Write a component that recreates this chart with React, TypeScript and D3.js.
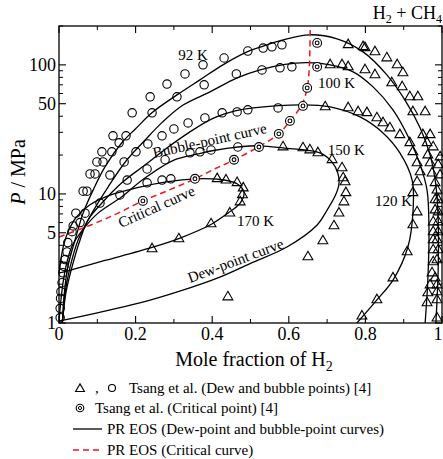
import React from 'react';
import * as d3 from 'd3';

type Pt = [number, number];

const W = 443, H = 459;
const X0 = 59, X1 = 442, Y0 = 323, Y1 = 26;

const xTicks = [0, 0.2, 0.4, 0.6, 0.8, 1];
const xTickLabels = ['0', '0.2', '0.4', '0.6', '0.8', '1'];
const xMinor = [0.1, 0.3, 0.5, 0.7, 0.9];
const yTicks = [1, 5, 10, 50, 100];
const yTickLabels = ['1', '5', '10', '50', '100'];
const yMinor = [2, 3, 4, 6, 7, 8, 9, 20, 30, 40, 60, 70, 80, 90, 200];

const curve92: Pt[] = [[0.009,1.0],[0.010,1.15],[0.013,1.6],[0.023,2.72],[0.042,4.4],[0.063,7.1],[0.089,10.7],[0.120,16.2],[0.164,24.9],[0.200,32],[0.245,43.1],[0.308,58.5],[0.368,76.5],[0.428,100],[0.491,126],[0.525,137],[0.58,155],[0.655,171],[0.726,159],[0.794,126],[0.856,83.6],[0.903,53.5],[0.943,32.4],[0.969,20],[0.984,11.7],[0.990,6.3],[0.990,2.57],[0.984,1.0]];
const curve100: Pt[] = [[0.008,1.0],[0.010,1.11],[0.016,1.71],[0.029,2.72],[0.050,4.4],[0.086,7.1],[0.128,11.3],[0.175,18],[0.225,26.2],[0.27,36],[0.324,48.8],[0.394,61.7],[0.465,79.3],[0.525,91.5],[0.59,101],[0.648,104],[0.708,100],[0.768,88.3],[0.820,67.5],[0.872,44.8],[0.916,26.2],[0.943,16.8],[0.961,10.7],[0.966,5.26],[0.963,2.15],[0.956,1.0]];
const curve120: Pt[] = [[0.008,1.0],[0.010,1.11],[0.018,1.71],[0.034,2.72],[0.055,4.4],[0.076,6.3],[0.112,8.5],[0.164,12.2],[0.225,16.8],[0.28,22.5],[0.34,30],[0.402,38.5],[0.46,44],[0.507,46.4],[0.637,49],[0.708,47.2],[0.786,39.5],[0.846,29.7],[0.890,20.8],[0.922,12.8],[0.924,7.1],[0.911,3.88],[0.872,2.15],[0.830,1.51],[0.778,1.0]];
const curve150: Pt[] = [[0.0,1.04],[0.004,1.4],[0.010,2.0],[0.02,2.9],[0.035,4.0],[0.068,5.55],[0.102,7.1],[0.164,9.5],[0.22,13.0],[0.30,18.3],[0.36,20.3],[0.40,21.6],[0.473,23.2],[0.525,23.6],[0.585,22.7],[0.681,20.8],[0.712,17.8],[0.728,14.5],[0.731,12],[0.722,9.8],[0.70,7.5],[0.674,5.75],[0.595,3.88],[0.50,2.9],[0.420,2.27],[0.311,1.75],[0.211,1.43],[0.10,1.2],[0.008,1.05],[0.0,1.04]];
const curve170: Pt[] = [[0.0,2.45],[0.004,3.0],[0.012,4.0],[0.025,5.2],[0.045,6.6],[0.08,8.2],[0.13,9.7],[0.211,11.3],[0.28,12.4],[0.355,13.1],[0.413,13.0],[0.465,12.0],[0.483,10.2],[0.473,8.5],[0.441,7.1],[0.399,5.85],[0.316,4.55],[0.243,3.85],[0.12,3.05],[0.06,2.72],[0.008,2.47],[0.0,2.45]];
const criticalCurve: Pt[] = [[0,4.64],[0.08,5.7],[0.15,7.0],[0.219,8.83],[0.29,10.8],[0.355,13.1],[0.41,15.8],[0.457,18.3],[0.522,23.3],[0.574,29.2],[0.603,36.8],[0.634,49],[0.648,66],[0.653,90],[0.655,130],[0.656,200]];

const bubblePoints: Pt[] = [
  [0.431,113],[0.493,128],[0.533,135],[0.556,138],[0.582,143],
  [0.376,100],[0.329,85],[0.282,71],[0.238,56.5],[0.191,42.5],
  [0.141,28.2],[0.175,28.2],[0.157,24.9],[0.112,21.2],[0.138,21.2],
  [0.099,17.7],[0.115,17.7],[0.081,14.3],[0.094,14.3],[0.133,14.0],
  [0.308,56.5],[0.243,42.5],[0.379,70],[0.463,85],[0.530,91.4],[0.577,94.8],[0.608,96.5],
  [0.170,17.7],[0.201,21.2],[0.232,24.4],[0.269,28.2],[0.300,31.9],[0.337,35.5],[0.381,38.8],
  [0.426,42.5],[0.465,43.2],[0.493,44.8],[0.572,46.4],
  [0.230,15.6],[0.277,18.4],[0.178,12.8],[0.342,20.8],[0.368,21.2],[0.397,21.9],[0.467,23.1],
  [0.230,12.2],[0.269,12.8],[0.292,13.1],
  [0.063,10.5],[0.073,10.5],[0.159,9.83],[0.107,8.5],[0.044,7.1],[0.068,7.1],[0.055,6.0],
  [0.037,5.65],[0.034,5.1],[0.023,4.2],[0.021,3.55],[0.016,3.1],[0.013,2.75],[0.010,2.45],
  [0.008,2.05],[0.005,1.75],[0.004,1.55],[0.003,1.3],[0.003,1.1]
];

const dewPoints: Pt[] = [
  [0.755,143],[0.794,138],[0.799,135.5],[0.825,126],[0.856,113],[0.883,100],[0.898,86.7],
  [0.916,56.5],[0.937,56.5],[0.924,43.2],[0.956,43.2],[0.950,28.7],[0.969,28.7],[0.961,24.9],[0.977,23.1],
  [0.708,100],[0.739,100],[0.755,96.5],[0.799,91.4],[0.825,83.6],[0.869,72.5],[0.896,67.5],
  [0.695,47.2],[0.755,46.4],[0.781,43.2],[0.804,42.5],[0.830,38.8],[0.846,35.5],[0.864,32.4],[0.890,28.7],
  [0.916,24.9],[0.924,21.2],[0.935,17.4],[0.943,14.8],[0.935,12.4],[0.924,10.2],[0.935,7.24],[0.924,5.75],
  [0.909,3.55],[0.872,2.23],[0.830,1.51],[0.791,1.13],
  [0.585,23.1],[0.637,22.7],[0.655,21.9],[0.676,20.8],[0.713,18.4],[0.739,15.9],[0.742,13.3],[0.747,12.4],
  [0.749,10.2],[0.744,8.66],[0.731,7.1],[0.718,5.65],[0.689,4.32],[0.650,3.25],[0.441,1.59],
  [0.243,3.75],[0.313,4.48],[0.397,5.85],[0.446,7.1],[0.473,8.66],[0.479,9.83],[0.481,11.1],[0.465,12.2],[0.436,12.8],[0.413,13.1],
  [0.963,20.0],[0.995,19.3],[0.969,17.4],[0.990,16.8],[0.974,14.5],[0.995,14.0],[0.982,12.2],[0.987,10.7],
  [0.982,9.0],[0.990,9.0],[0.982,7.5],[0.990,7.24],[0.977,6.06],[0.990,6.06],[0.977,5.08],[0.990,5.08],
  [0.977,4.4],[0.987,4.4],[0.977,3.68],[0.990,3.68],[0.977,2.97],[0.987,3.08],[0.974,2.44],[0.982,2.23],
  [0.969,1.97],[0.987,1.97],[0.963,1.71],[0.987,1.74],[0.961,1.43],[0.987,1.51],[0.987,1.09]
];

const criticalPoints: Pt[] = [[0.674,148],[0.674,96.5],[0.648,66.3],[0.637,48.1],[0.603,36.8],[0.574,29.2],[0.522,23.1],[0.457,18.4],[0.355,13.1],[0.219,8.83]];

const tempLabels = ['92 K', '100 K', '120 K', '150 K', '170 K'];
const tempLabelPos: Pt[] = [[0.35,109],[0.676,66.3],[0.825,8.07],[0.702,20],[0.465,5.65]];
const tempLabelAnchor = ['middle', 'start', 'start', 'start', 'start'];

const curveLabels = ['Bubble-point curve', 'Critical curve', 'Dew-point curve'];
const curveLabelPos: Pt[] = [[0.248,19.0],[0.162,5.45],[0.342,2.04]];
const curveLabelAngle = [-12.5, -24, -20.5];

const FONT = '"Liberation Serif", "Times New Roman", serif';

export default function App() {
  const x = d3.scaleLinear().domain([0, 1]).range([X0, X1]);
  const y = d3.scaleLog().domain([1, 200]).range([Y0, Y1]);
  const line = d3.line<Pt>().x(d => x(d[0])).y(d => y(d[1])).curve(d3.curveCatmullRom.alpha(0.5));
  const tri = d3.symbol().type(d3.symbolTriangle).size(42)() as string;
  const triLeg = d3.symbol().type(d3.symbolTriangle).size(34)() as string;
  const envelopes = [curve92, curve100, curve120, curve150, curve170];

  return (
    <svg width={W} height={H} style={{ position: 'absolute', left: 0, top: 0, background: '#fff' }} fontFamily={FONT}>
      <defs>
        <clipPath id="plot"><rect x={X0} y={Y1} width={X1 - X0} height={Y0 - Y1} /></clipPath>
      </defs>
      <rect x={0} y={0} width={W} height={H} fill="#fff" />
      <g clipPath="url(#plot)">
        {envelopes.map((c, i) => (
          <path key={i} d={line(c) as string} fill="none" stroke="#000" strokeWidth={1.3} />
        ))}
        <path d={line(criticalCurve) as string} fill="none" stroke="#e8161b" strokeWidth={1.5} strokeDasharray="6,4" />
      </g>
      {bubblePoints.map((d, i) => (
        <circle key={'b' + i} cx={x(d[0])} cy={y(d[1])} r={4.2} fill="none" stroke="#000" strokeWidth={1.1} />
      ))}
      {dewPoints.map((d, i) => (
        <path key={'d' + i} d={tri} transform={`translate(${x(d[0])},${y(d[1])})`} fill="none" stroke="#000" strokeWidth={1.1} />
      ))}
      {criticalPoints.map((d, i) => (
        <g key={'c' + i}>
          <circle cx={x(d[0])} cy={y(d[1])} r={4.4} fill="#fff" stroke="#000" strokeWidth={1.1} />
          <circle cx={x(d[0])} cy={y(d[1])} r={1.9} fill="none" stroke="#000" strokeWidth={1.1} />
        </g>
      ))}
      <rect x={X0} y={Y1} width={X1 - X0} height={Y0 - Y1} fill="none" stroke="#000" strokeWidth={1.3} />
      {xTicks.map((t, i) => (
        <g key={'xt' + i}>
          <line x1={x(t)} x2={x(t)} y1={Y0} y2={Y0 - 7} stroke="#000" strokeWidth={1.1} />
          <line x1={x(t)} x2={x(t)} y1={Y1} y2={Y1 + 7} stroke="#000" strokeWidth={1.1} />
          <text x={Math.min(x(t), 438)} y={Y0 + 17} fontSize={18} textAnchor="middle">{xTickLabels[i]}</text>
        </g>
      ))}
      {xMinor.map((t, i) => (
        <g key={'xm' + i}>
          <line x1={x(t)} x2={x(t)} y1={Y0} y2={Y0 - 4} stroke="#000" strokeWidth={1} />
          <line x1={x(t)} x2={x(t)} y1={Y1} y2={Y1 + 4} stroke="#000" strokeWidth={1} />
        </g>
      ))}
      {yTicks.map((t, i) => (
        <g key={'yt' + i}>
          <line x1={X0} x2={X0 + 7} y1={y(t)} y2={y(t)} stroke="#000" strokeWidth={1.1} />
          <line x1={X1} x2={X1 - 7} y1={y(t)} y2={y(t)} stroke="#000" strokeWidth={1.1} />
          <text x={X0 - 3} y={y(t) + 6} fontSize={18} textAnchor="end">{yTickLabels[i]}</text>
        </g>
      ))}
      {yMinor.map((t, i) => (
        <g key={'ym' + i}>
          <line x1={X0} x2={X0 + 4} y1={y(t)} y2={y(t)} stroke="#000" strokeWidth={1} />
          <line x1={X1} x2={X1 - 4} y1={y(t)} y2={y(t)} stroke="#000" strokeWidth={1} />
        </g>
      ))}
      <text x={254} y={366} fontSize={20} textAnchor="middle">Mole fraction of H<tspan dy={5} fontSize={14}>2</tspan></text>
      <text transform="translate(25,172) rotate(-90)" fontSize={20} textAnchor="middle">
        <tspan fontStyle="italic">P</tspan> / MPa
      </text>
      <text x={442} y={19} fontSize={18} textAnchor="end">H<tspan dy={4} fontSize={12}>2</tspan><tspan dy={-4}> + CH</tspan><tspan dy={4} fontSize={12}>4</tspan></text>
      {tempLabels.map((s, i) => (
        <text key={'tl' + i} x={x(tempLabelPos[i][0])} y={y(tempLabelPos[i][1])} fontSize={15} textAnchor={tempLabelAnchor[i] as any}>{s}</text>
      ))}
      {curveLabels.map((s, i) => (
        <text key={'cl' + i} transform={`translate(${x(curveLabelPos[i][0])},${y(curveLabelPos[i][1])}) rotate(${curveLabelAngle[i]})`} fontSize={15}>{s}</text>
      ))}
      <g fontSize={15}>
        <path d={triLeg} transform="translate(80,389)" fill="none" stroke="#000" strokeWidth={1.1} />
        <text x={95} y={393}>,</text>
        <circle cx={112} cy={388} r={3.5} fill="none" stroke="#000" strokeWidth={1.1} />
        <text x={129} y={393}>Tsang et al. (Dew and bubble points) [4]</text>
        <circle cx={80} cy={408} r={3.8} fill="none" stroke="#000" strokeWidth={1.1} />
        <circle cx={80} cy={408} r={1.6} fill="none" stroke="#000" strokeWidth={1} />
        <text x={95} y={413}>Tsang et al. (Critical point) [4]</text>
        <line x1={73} x2={102} y1={429} y2={429} stroke="#000" strokeWidth={1.3} />
        <text x={107} y={434}>PR EOS (Dew-point and bubble-point curves)</text>
        <line x1={73} x2={102} y1={450} y2={450} stroke="#e8161b" strokeWidth={1.5} strokeDasharray="6,4" />
        <text x={107} y={455}>PR EOS (Critical curve)</text>
      </g>
    </svg>
  );
}
